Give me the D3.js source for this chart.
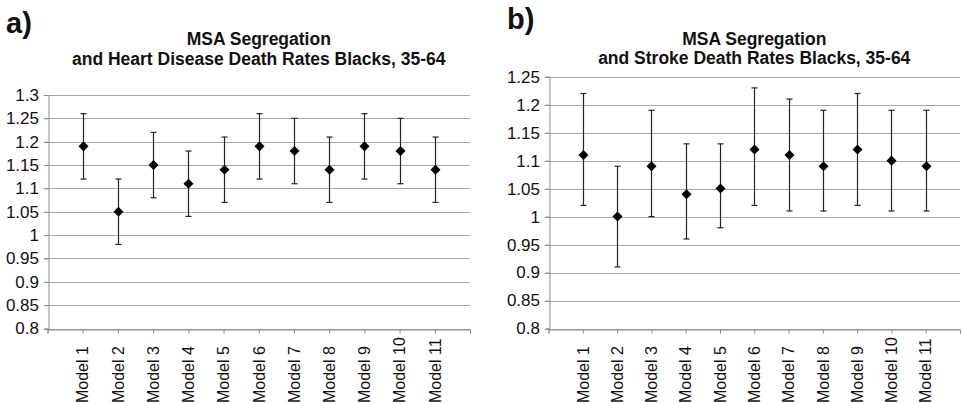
<!DOCTYPE html>
<html><head><meta charset="utf-8">
<script src="https://cdn.jsdelivr.net/npm/d3@7"></script>
<style>
body{margin:0;background:#fff;}
svg{display:block;font-family:"Liberation Sans",Arial,Helvetica,sans-serif;}
</style></head>
<body><svg id="c" width="962" height="403"></svg>
<script>
const categories = ["Model 1","Model 2","Model 3","Model 4","Model 5","Model 6","Model 7","Model 8","Model 9","Model 10","Model 11"];

const heartEst = [1.19,1.05,1.15,1.11,1.14,1.19,1.18,1.14,1.19,1.18,1.14];
const heartLow = [1.12,0.98,1.08,1.04,1.07,1.12,1.11,1.07,1.12,1.11,1.07];
const heartHigh = [1.26,1.12,1.22,1.18,1.21,1.26,1.25,1.21,1.26,1.25,1.21];
const heartTicks = [0.8,0.85,0.9,0.95,1,1.05,1.1,1.15,1.2,1.25,1.3];

const strokeEst = [1.11,1.00,1.09,1.04,1.05,1.12,1.11,1.09,1.12,1.10,1.09];
const strokeLow = [1.02,0.91,1.00,0.96,0.98,1.02,1.01,1.01,1.02,1.01,1.01];
const strokeHigh = [1.22,1.09,1.19,1.13,1.13,1.23,1.21,1.19,1.22,1.19,1.19];
const strokeTicks = [0.8,0.85,0.9,0.95,1,1.05,1.1,1.15,1.2,1.25];

const svg = d3.select("#c");

function panel(opt){
  const g = svg.append("g");
  const x = d3.scaleLinear().domain([0, categories.length+1]).range([opt.x0, opt.x1]);
  const y = d3.scaleLinear().domain([opt.ticks[0], opt.ticks[opt.ticks.length-1]]).range([328.5, opt.yTop]);

  g.append("text").attr("x", opt.letterX).attr("y", opt.letterY)
    .attr("font-size", 29).attr("font-weight", "bold").attr("fill","#111").text(opt.letter);
  const cx = (opt.x0 + opt.x1)/2;
  opt.title.forEach((t,i)=>{
    g.append("text").attr("x", cx).attr("y", opt.titleY[i]).attr("text-anchor","middle")
      .attr("font-size", 17.5).attr("font-weight","bold").attr("fill","#111").text(t);
  });

  g.append("g").selectAll("line").data(opt.ticks).join("line")
    .attr("x1", opt.x0-4).attr("x2", opt.x1)
    .attr("y1", d=>Math.round(y(d))+0.5).attr("y2", d=>Math.round(y(d))+0.5)
    .attr("stroke","#a6a6a6").attr("stroke-width",1);

  const ya = g.append("g").attr("transform",`translate(${Math.round(opt.x0)+0.5},0)`)
    .attr("font-size",17).attr("font-family","Liberation Sans, Arial, sans-serif")
    .call(d3.axisLeft(y).tickValues(opt.ticks).tickFormat(d=>String(+d.toFixed(2))).tickSize(4).tickPadding(5.5));
  ya.attr("font-size",17);
  ya.select(".domain").attr("stroke","#8c8c8c");
  ya.selectAll(".tick line").attr("stroke","#8c8c8c");
  ya.selectAll(".tick text").style("font-size","17px").attr("fill","#111");

  const xa = g.append("g").attr("transform",`translate(0,${Math.round(y(opt.ticks[0]))+0.5})`)
    .call(d3.axisBottom(x).tickValues(d3.range(0, categories.length+2)).tickFormat("").tickSizeOuter(0).tickSize(4));
  xa.select(".domain").attr("stroke","#8c8c8c");
  xa.selectAll(".tick line").attr("stroke","#8c8c8c");

  g.append("g").selectAll("text").data(categories).join("text")
    .attr("transform",(d,i)=>`translate(${x(i+1)},403) rotate(-90)`)
    .attr("dy","0.36em").attr("text-anchor","start")
    .attr("font-size",16).attr("fill","#111").text(d=>d);

  const eb = g.append("g").selectAll("g").data(categories).join("g");
  eb.append("line").attr("x1",(d,i)=>Math.round(x(i+1))+0.5).attr("x2",(d,i)=>Math.round(x(i+1))+0.5)
    .attr("y1",(d,i)=>y(opt.low[i])).attr("y2",(d,i)=>y(opt.high[i]))
    .attr("stroke","#222").attr("stroke-width",1.2);
  [opt.low, opt.high].forEach(arr=>{
    eb.append("line").attr("x1",(d,i)=>Math.round(x(i+1))+0.5-3).attr("x2",(d,i)=>Math.round(x(i+1))+0.5+3)
      .attr("y1",(d,i)=>y(arr[i])).attr("y2",(d,i)=>y(arr[i]))
      .attr("stroke","#222").attr("stroke-width",1.2);
  });
  g.append("g").selectAll("path").data(categories).join("path")
    .attr("transform",(d,i)=>`translate(${Math.round(x(i+1))+0.5},${y(opt.est[i])})`)
    .attr("d", d3.symbol(d3.symbolDiamond2, 64))
    .attr("fill","#000");
}

panel({x0:47.5, x1:470, yTop:95, ticks:heartTicks, est:heartEst, low:heartLow, high:heartHigh,
  letter:"a)", letterX:6, letterY:33, title:["MSA Segregation","and Heart Disease Death Rates Blacks, 35-64"], titleY:[45,65]});
panel({x0:548.5, x1:960, yTop:76.7, ticks:strokeTicks, est:strokeEst, low:strokeLow, high:strokeHigh,
  letter:"b)", letterX:507, letterY:29, title:["MSA Segregation","and Stroke Death Rates Blacks, 35-64"], titleY:[45,64]});
</script></body></html>
